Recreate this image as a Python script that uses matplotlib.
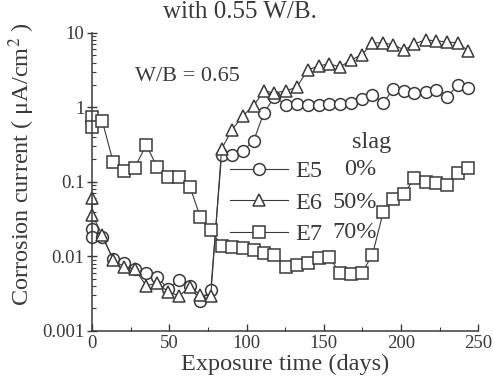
import matplotlib
matplotlib.use("Agg")
import matplotlib.pyplot as plt
from matplotlib.ticker import LogLocator, NullFormatter

plt.rcParams['font.family'] = ['Liberation Serif', 'DejaVu Serif']
plt.rcParams['mathtext.fontset'] = 'stix'

# -------------------- Data --------------------
days = [0, 0, 6.5, 13.6, 20.7, 27.5, 35, 42, 49.2, 56.3, 63.3, 70, 76.8,
        83.8, 90.5, 97.4, 104.5, 111.2, 118, 125.6, 132.5, 139.6, 146.6,
        153.2, 160.6, 167.7, 174.6, 181.5, 188.5, 195.1, 202, 208.7, 215.9,
        222.8, 230.1, 236.6, 243.7]

e5_current = [0.0234, 0.0183, 0.0183, 0.00925, 0.00818, 0.00679, 0.00601,
              0.00531, 0.00367, 0.00484, 0.00402, 0.00253, 0.00355,
              0.230, 0.230, 0.260, 0.355, 0.843, 1.38, 1.08, 1.11, 1.08,
              1.08, 1.11, 1.11, 1.15, 1.30, 1.47, 1.15, 1.77, 1.66, 1.57,
              1.61, 1.72, 1.38, 2.00, 1.83]

e6_current = [0.061, 0.0361, 0.0194, 0.00898, 0.00723, 0.00679, 0.00402,
              0.00441, 0.00334, 0.00295, 0.00390, 0.00304, 0.00295,
              0.277, 0.499, 0.769, 1.047, 1.66, 1.57, 1.66, 1.88, 3.18,
              3.60, 3.84, 3.50, 4.35, 5.07, 7.35, 7.35, 6.90, 5.91, 7.12,
              8.06, 7.81, 7.57, 7.35, 5.73]

e7_current = [0.745, 0.547, 0.659, 0.185, 0.141, 0.154, 0.314, 0.159,
              0.117, 0.117, 0.0857, 0.0339, 0.0227, 0.0138, 0.0134,
              0.0130, 0.0122, 0.0111, 0.0105, 0.00723, 0.00769, 0.00818,
              0.00955, 0.00985, 0.00601, 0.00582, 0.00601, 0.0105, 0.0395,
              0.0591, 0.0690, 0.113, 0.100, 0.0970, 0.0912, 0.132, 0.154]

series_names = ["E5", "E6", "E7"]
slag_levels = ["0%", "50%", "70%"]
series_markers = ["o", "^", "s"]

x_ticks = [0, 50, 100, 150, 200, 250]
x_minor = [25, 75, 125, 175, 225]
y_ticks = [0.001, 0.01, 0.1, 1, 10]
y_tick_labels = ["0.001", "0.01", "0.1", "1", "10"]

# -------------------- Figure --------------------
ink = "#3a3a3a"
fig = plt.figure(figsize=(4.93, 3.87), dpi=100)
ax = fig.add_axes([0.187, 0.145, 0.783, 0.770])

for vals, name, mk in zip([e5_current, e6_current, e7_current],
                          series_names, series_markers):
    ax.plot(days, vals, color=ink, lw=0.8, marker=mk, ms=8.5,
            mfc="white", mec=ink, mew=1.1, clip_on=False, label=name)

ax.set_yscale("log")
ax.set_xlim(0, 250)
ax.set_ylim(0.001, 10)

ax.set_xticks(x_ticks)
ax.set_xticks(x_minor, minor=True)
ax.set_yticks(y_ticks)
ax.set_yticklabels(y_tick_labels)
ax.yaxis.set_minor_locator(LogLocator(base=10, subs=range(2, 10)))
ax.yaxis.set_minor_formatter(NullFormatter())

for s in ["top", "right"]:
    ax.spines[s].set_visible(False)
for s in ["left", "bottom"]:
    ax.spines[s].set_color(ink)
    ax.spines[s].set_linewidth(1.1)

ax.tick_params(axis="x", which="major", direction="in", length=5,
               width=1, colors=ink, labelsize=13.5, pad=3)
ax.tick_params(axis="x", which="minor", direction="in", length=3,
               width=0.8, colors=ink)
ax.tick_params(axis="y", which="major", direction="inout", length=7,
               width=1, colors=ink, labelsize=13.5, pad=2)
ax.tick_params(axis="y", which="minor", direction="in", length=3,
               width=0.8, colors=ink)

ax.set_xlabel("Exposure time (days)", fontsize=17.5, color=ink, labelpad=1)
fig.text(0.045, 0.575, "Corrosion current ( μA/cm$^2$ )", rotation=90,
         ha="center", va="center", fontsize=17.5, color=ink)
fig.text(0.487, 0.97, "with 0.55 W/B.", ha="center", va="center",
         fontsize=18, color=ink)

ax.text(0.111, 0.852, "W/B = 0.65", transform=ax.transAxes,
        ha="left", va="center", fontsize=16, color=ink)

# legend: line-marker-line handles with names, slag levels as a column
leg = ax.legend(loc="center left", bbox_to_anchor=(0.357, 0.43),
                frameon=False, fontsize=17.5, handlelength=2.4,
                handletextpad=0.3, labelspacing=0.4, borderpad=0,
                borderaxespad=0)
for t in leg.get_texts():
    t.set_color(ink)

ax.text(0.725, 0.631, "slag", transform=ax.transAxes, ha="center",
        va="center", fontsize=17.5, color=ink)
for lvl, yy in zip(slag_levels, [0.540, 0.430, 0.329]):
    ax.text(0.737, yy, lvl, transform=ax.transAxes, ha="right",
            va="center", fontsize=17.5, color=ink)

fig.savefig("out.png", dpi=100)
